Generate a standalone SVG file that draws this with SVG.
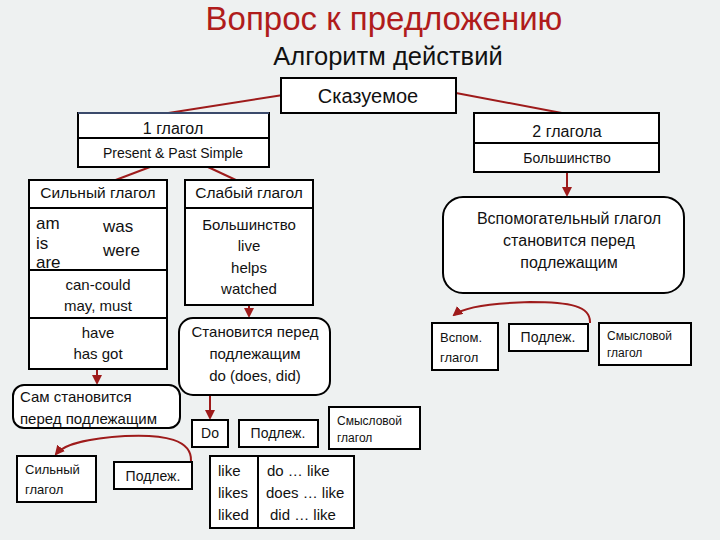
<svg xmlns="http://www.w3.org/2000/svg" width="720" height="540" viewBox="0 0 720 540">
<defs>
<style>
text{font-family:"Liberation Sans","Noto Sans",sans-serif;fill:#111}
.box{fill:#fff;stroke:#000;stroke-width:2}
.ln{fill:none;stroke:#9e1b1b;stroke-width:2}
.c{text-anchor:middle}
.s15{font-size:15px}
.s14{font-size:14px}
.s13{font-size:13px}
.s12{font-size:12px}
</style>
<marker id="ah" viewBox="0 0 10 10" refX="8" refY="5" markerWidth="5" markerHeight="5" orient="auto-start-reverse">
<path d="M0,0 L10,5 L0,10 z" fill="#9e1b1b"/>
</marker>
</defs>
<rect width="720" height="540" fill="#eef1f1"/>
<text x="384" y="30" class="c" style="font-size:33px;fill:#b01c1c">Вопрос к предложению</text>
<text x="388" y="65" class="c" style="font-size:25.5px">Алгоритм действий</text>

<g id="connectors">
<line class="ln" x1="283" y1="95" x2="162" y2="114"/>
<line class="ln" x1="456" y1="93" x2="567" y2="114"/>
<line class="ln" x1="150" y1="167" x2="113" y2="181"/>
<line class="ln" x1="208" y1="167" x2="238" y2="181"/>
<line class="ln" x1="249" y1="305" x2="249" y2="316" marker-end="url(#ah)"/>
<line class="ln" x1="97" y1="369" x2="97" y2="383" marker-end="url(#ah)"/>
<line class="ln" x1="210" y1="395" x2="210" y2="418" marker-end="url(#ah)"/>
<line class="ln" x1="567" y1="172" x2="567" y2="195" marker-end="url(#ah)"/>
<path class="ln" d="M191,461 C192,440 165,434 125,436 C95,438 66,442 56,454" marker-end="url(#ah)"/>
<path class="ln" d="M590,323 C591,306 570,302 530,302 C495,303 465,306 454,315" marker-end="url(#ah)"/>
</g>

<g id="skazuemoe">
<rect class="box" x="281" y="78" width="175" height="35"/>
<text x="368" y="103" class="c" style="font-size:20px">Сказуемое</text>
</g>

<g id="odin-glagol">
<rect class="box" x="78" y="113" width="191" height="54"/>
<line x1="78" y1="113" x2="269" y2="113" stroke="#3b4a6b" stroke-width="2"/>
<line x1="78" y1="138" x2="269" y2="138" stroke="#000" stroke-width="2"/>
<text x="173" y="134" class="c" style="font-size:16px">1 глагол</text>
<text x="173" y="158" class="c s14">Present &amp; Past Simple</text>
</g>

<g id="dva-glagola">
<rect class="box" x="474" y="113" width="185" height="59"/>
<line x1="474" y1="143" x2="659" y2="143" stroke="#000" stroke-width="2"/>
<text x="567" y="137" class="c" style="font-size:16px">2 глагола</text>
<text x="567" y="163" class="c s14">Большинство</text>
</g>

<g id="silnyi">
<rect class="box" x="29" y="180" width="138" height="189"/>
<line x1="29" y1="208" x2="167" y2="208" stroke="#000" stroke-width="2"/>
<line x1="29" y1="270" x2="167" y2="270" stroke="#000" stroke-width="2"/>
<line x1="29" y1="318" x2="167" y2="318" stroke="#000" stroke-width="2"/>
<text x="98" y="198" class="c" style="font-size:15.5px">Сильный глагол</text>
<text x="36" y="229" style="font-size:17px">am</text>
<text x="36" y="249" style="font-size:17px">is</text>
<text x="36" y="268" style="font-size:17px">are</text>
<text x="103" y="232" style="font-size:17px">was</text>
<text x="103" y="256" style="font-size:17px">were</text>
<text x="98" y="290" class="c s15">can-could</text>
<text x="98" y="311" class="c s15">may, must</text>
<text x="98" y="338" class="c s15">have</text>
<text x="98" y="359" class="c s15">has got</text>
</g>

<g id="slabyi">
<rect class="box" x="185" y="180" width="128" height="125"/>
<line x1="185" y1="208" x2="313" y2="208" stroke="#000" stroke-width="2"/>
<text x="249" y="198" class="c" style="font-size:15.5px">Слабый глагол</text>
<text x="249" y="230" class="c s15">Большинство</text>
<text x="249" y="251" class="c s15">live</text>
<text x="249" y="273" class="c s15">helps</text>
<text x="249" y="294" class="c s15">watched</text>
</g>

<g id="stanovitsya">
<rect class="box" x="179" y="318" width="151" height="77" rx="14"/>
<text x="255" y="337" class="c s15">Становится перед</text>
<text x="255" y="359" class="c s15">подлежащим</text>
<text x="255" y="381" class="c s15">do (does, did)</text>
</g>

<g id="sam">
<rect class="box" x="13" y="385" width="167" height="43" rx="11"/>
<text x="20" y="402" class="s15">Сам становится</text>
<text x="20" y="424" class="s15">перед подлежащим</text>
</g>

<g id="do">
<rect class="box" x="192" y="420" width="36" height="27"/>
<text x="210" y="438" class="c s14">Do</text>
</g>

<g id="podlezh1">
<rect class="box" x="239" y="420" width="79" height="27"/>
<text x="278" y="438" class="c s14">Подлеж.</text>
</g>

<g id="smyslovoi1">
<rect class="box" x="329" y="407" width="91" height="42"/>
<text x="337" y="425" class="s12">Смысловой</text>
<text x="337" y="442" class="s12">глагол</text>
</g>

<g id="like-table">
<rect class="box" x="210" y="456" width="144" height="72"/>
<line x1="258" y1="456" x2="258" y2="528" stroke="#000" stroke-width="2"/>
<text x="218" y="476" class="s15">like</text>
<text x="218" y="498" class="s15">likes</text>
<text x="218" y="520" class="s15">liked</text>
<text x="267" y="476" class="s15">do … like</text>
<text x="266" y="498" class="s15">does … like</text>
<text x="270" y="520" class="s15">did … like</text>
</g>

<g id="silnyi2">
<rect class="box" x="17" y="456" width="79" height="46"/>
<text x="25" y="474" class="s13">Сильный</text>
<text x="25" y="494" class="s13">глагол</text>
</g>

<g id="podlezh2">
<rect class="box" x="114" y="462" width="78" height="27"/>
<text x="153" y="481" class="c s14">Подлеж.</text>
</g>

<g id="vspomogatelnyi">
<rect class="box" x="443" y="197" width="241" height="96" rx="20"/>
<text x="569" y="224" class="c" style="font-size:16px">Вспомогательный глагол</text>
<text x="569" y="246" class="c" style="font-size:16px">становится перед</text>
<text x="569" y="268" class="c" style="font-size:16px">подлежащим</text>
</g>

<g id="vspom">
<rect class="box" x="432" y="323" width="66" height="47"/>
<text x="440" y="342" class="s13">Вспом.</text>
<text x="440" y="362" class="s13">глагол</text>
</g>

<g id="podlezh3">
<rect class="box" x="509" y="324" width="79" height="27"/>
<text x="548" y="342" class="c s14">Подлеж.</text>
</g>

<g id="smyslovoi2">
<rect class="box" x="599" y="323" width="92" height="42"/>
<text x="607" y="340" class="s12">Смысловой</text>
<text x="607" y="357" class="s12">глагол</text>
</g>
</svg>
